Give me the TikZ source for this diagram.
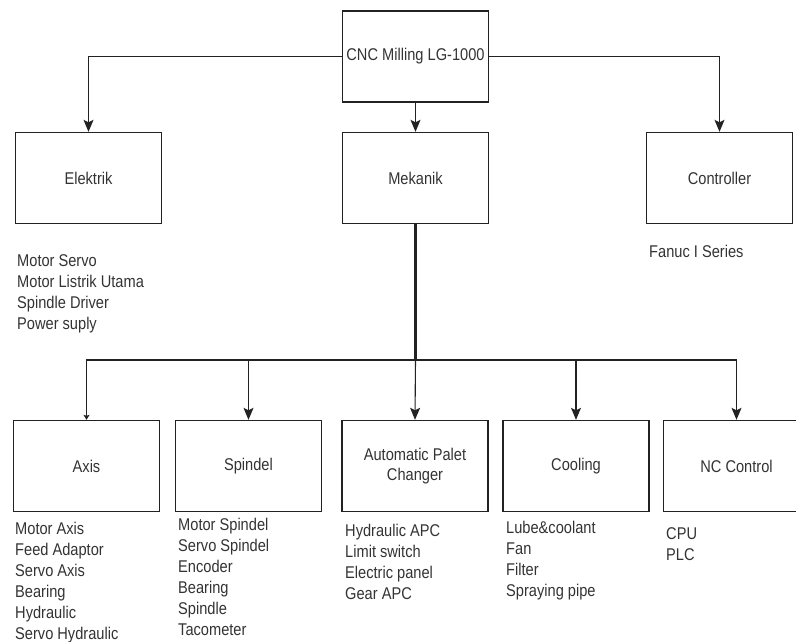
\documentclass[tikz,border=0pt]{standalone}
\usepackage{fontspec}
\usepackage{graphicx}
\setmainfont{Liberation Sans}
\usetikzlibrary{arrows.meta}
\newcommand\sq[1]{\scalebox{0.86}[1]{#1}}
\newcommand\lst[1]{\sq{\begin{tabular}[t]{@{}l@{}}#1\end{tabular}}}
\definecolor{txt}{HTML}{333333}
\definecolor{ln}{HTML}{222222}
\begin{document}
\begin{tikzpicture}[x=1pt,y=-1pt,
  box/.style={draw=ln, line width=1.4pt, minimum width=146pt, minimum height=91pt, inner sep=0pt, text=txt, font=\fontsize{17}{20}\selectfont, align=center},
  items/.style={anchor=base west, inner sep=0pt, text=txt, font=\fontsize{17}{21}\selectfont},
  conn/.style={draw=ln, line width=1.1pt},
  arr/.style={conn, -{Stealth[length=12pt,width=10pt,inset=2.5pt]}}]
\useasboundingbox (0,0) rectangle (796,641);
\node[box] (top) at (415.5,56.5) {\sq{CNC Milling LG-1000}};
\node[box] (elek) at (88.5,178) {\sq{Elektrik}};
\node[box] (mek) at (415.5,178) {\sq{Mekanik}};
\node[box] (ctrl) at (719.5,178) {\sq{Controller}};
\node[box] (axis) at (86.5,466) {\sq{Axis}};
\node[box] (spin) at (248.5,466) {\sq{Spindel}};
\node[box] (apc) at (415,466) {\sq{\begin{tabular}{@{}c@{}}Automatic Palet\\Changer\end{tabular}}};
\node[box] (cool) at (576,466) {\sq{Cooling}};
\node[box] (nc) at (736.5,466) {\sq{NC Control}};
\coordinate (hub) at (415.5,360);
% connectors
\draw[arr] (top.west) -| (elek.north);
\draw[arr] (top.east) -| (ctrl.north);
\draw[arr] (top.south) -- (mek.north);
\draw[draw=ln, line width=3pt] (mek.south) -- (hub);
\draw[conn, -{Stealth[length=5pt,width=6pt,inset=1pt]}] (hub) -| (axis.north);
\draw[arr] (hub) -| (spin.north);
\draw[arr] (hub) -- (apc.north);
\draw[arr] (hub) -| (cool.north);
\draw[arr] (hub) -| (nc.north);
% lists
\node[items] (le) at (17,266) {\lst{Motor Servo\\Motor Listrik Utama\\Spindle Driver\\Power suply}};
\node[items] (lc) at (649,257) {\lst{Fanuc I Series}};
\node[items] (la) at (15,534) {\lst{Motor Axis\\Feed Adaptor\\Servo Axis\\Bearing\\Hydraulic\\Servo Hydraulic}};
\node[items] (ls) at (178,530.5) {\lst{Motor Spindel\\Servo Spindel\\Encoder\\Bearing\\Spindle\\Tacometer}};
\node[items] (lp) at (345,536.5) {\lst{Hydraulic APC\\Limit switch\\Electric panel\\Gear APC}};
\node[items] (lco) at (506,533) {\lst{Lube\&coolant\\Fan\\Filter\\Spraying pipe}};
\node[items] (ln) at (666,539) {\lst{CPU\\PLC}};
\end{tikzpicture}
\end{document}
